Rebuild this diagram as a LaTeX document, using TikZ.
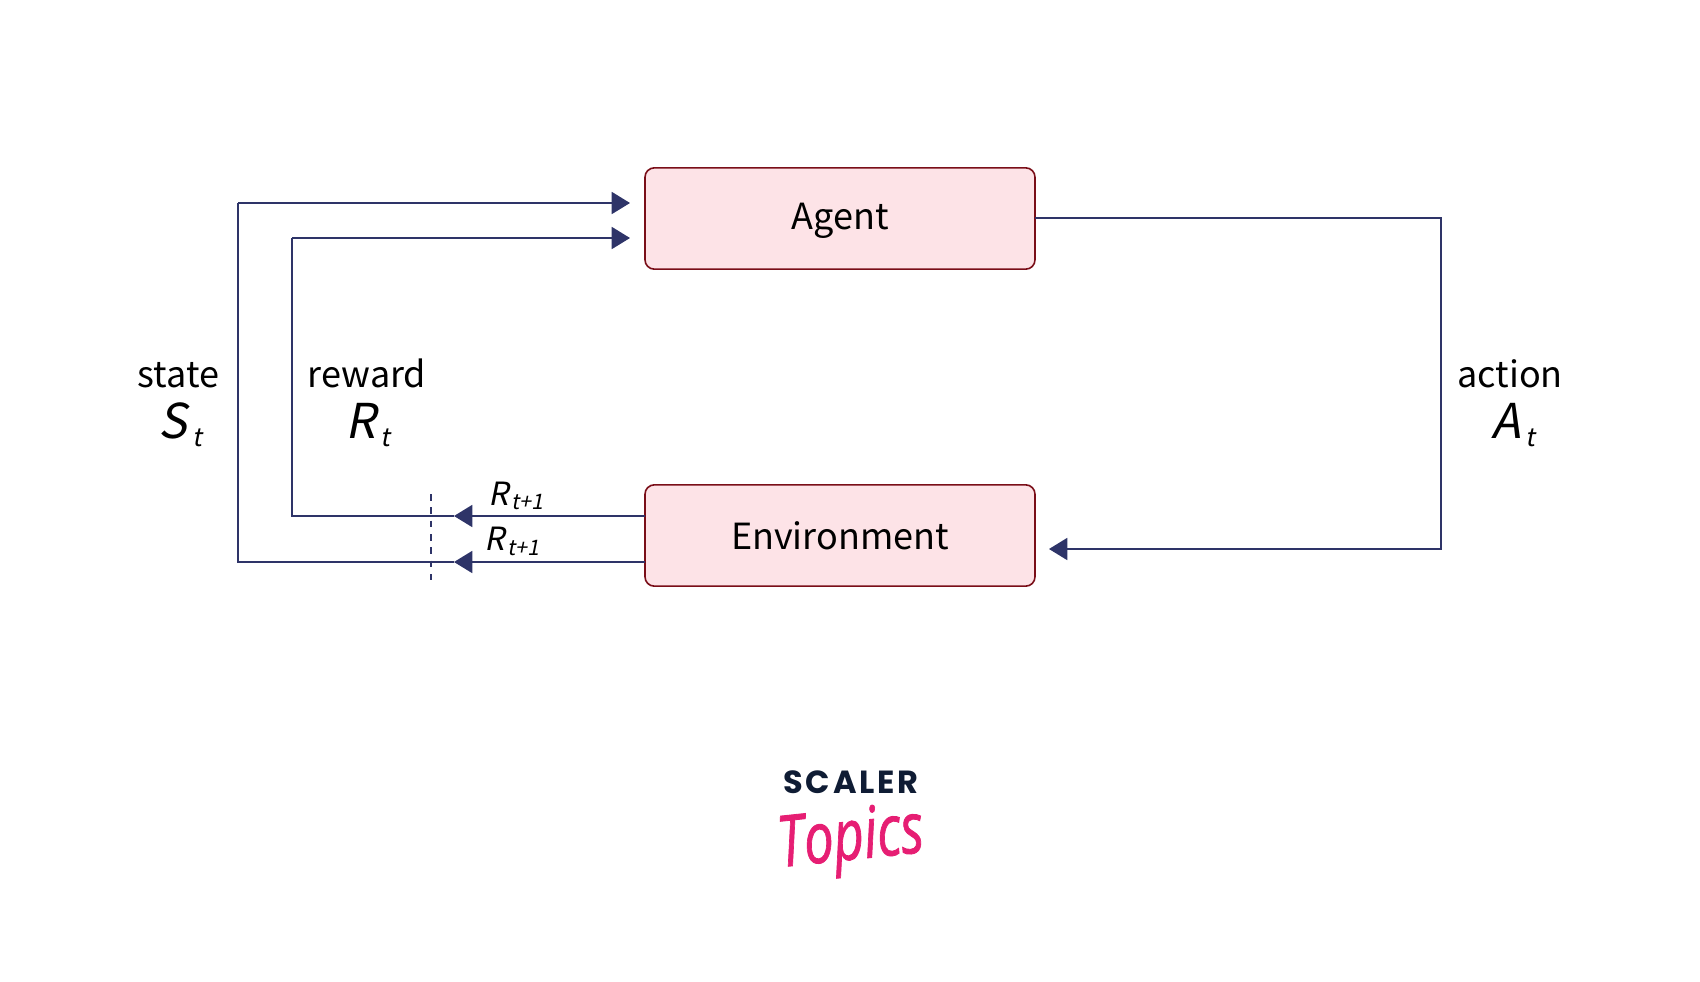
\documentclass[tikz,border=0pt]{standalone}
\usepackage{fontspec}
\usepackage{tikz}
\usetikzlibrary{arrows.meta}
\setmainfont{Noto Sans CJK SC}[AutoFakeSlant=0.2]
\newfontfamily\logofont[LetterSpace=9]{Poppins}
\newfontfamily\topicsfont{Open Sans}[FakeBold=1.2]
\definecolor{flowblue}{RGB}{46,52,104}
\definecolor{boxred}{RGB}{122,14,24}
\definecolor{boxpink}{RGB}{253,227,231}
\definecolor{logonavy}{RGB}{15,28,52}
\definecolor{logopink}{RGB}{230,30,115}
\newcommand{\symb}[2]{\fontsize{36}{36}\selectfont\itshape #1\hspace{3.5pt}\raisebox{-6pt}{\fontsize{19}{19}\selectfont #2}}
\newcommand{\nextsymb}{\fontsize{24}{24}\selectfont\itshape R\hspace{2pt}\raisebox{-3.7pt}{\fontsize{16}{16}\selectfont t+1}}
\tikzset{
  blockbox/.style={draw=boxred,fill=boxpink,line width=1.2pt,rounded corners=7pt,minimum width=292.5pt,minimum height=76pt,inner sep=0pt,font=\fontsize{27}{27}\selectfont},
  flowline/.style={draw=flowblue,line width=1.25pt},
  flowarrow/.style={flowline,-{Triangle[length=13.7pt,width=16.5pt,color=flowblue]}},
  textlabel/.style={inner sep=0pt,font=\fontsize{27}{27}\selectfont},
  symbollabel/.style={inner sep=0pt,anchor=base west}
}
\begin{document}
\begin{tikzpicture}[x=0.75pt,y=0.75pt,yscale=-1]
\useasboundingbox (0,0) rectangle (1700,982);

%Blocks
\node [blockbox] (agent) at (840,218.5) {\smash{\raisebox{-8pt}{Agent}}};
\node [blockbox] (environment) at (840,535.5) {Environment};

%Corners and free ends
\coordinate (stateTip) at (630,203);
\coordinate (rewardTip) at (630,238);
\coordinate (stateCorner) at (238,203);
\coordinate (rewardCorner) at (292,238);
\coordinate (stateLow) at (238,562);
\coordinate (rewardLow) at (292,516);
\coordinate (stateOut) at (645,562);
\coordinate (rewardOut) at (645,516);
\coordinate (stateHead) at (454,562);
\coordinate (rewardHead) at (454,516);
\coordinate (actionOut) at (1035,218);
\coordinate (actionTop) at (1441,218);
\coordinate (actionLow) at (1441,549);
\coordinate (actionTip) at (1049,549);
\coordinate (cutTop) at (431,494);
\coordinate (cutLow) at (431,580);

%Straight Lines
\draw [flowarrow] (stateOut) -- (stateHead);
\draw [flowarrow] (rewardOut) -- (rewardHead);
\draw [flowline] (stateHead) -- (stateLow) -- (stateCorner);
\draw [flowline] (rewardHead) -- (rewardLow) -- (rewardCorner);
\draw [flowarrow] (stateCorner) -- (stateTip);
\draw [flowarrow] (rewardCorner) -- (rewardTip);
\draw [flowarrow] (actionOut) -- (actionTop) -- (actionLow) -- (actionTip);
\draw [flowblue,line width=1.1pt,dash pattern=on 5pt off 5pt] (cutTop) -- (cutLow);

% Text Node
\node [textlabel] (stateText) at (178.5,375) {state};
\node [textlabel] (rewardText) at (367,373) {reward};
\node [textlabel] (actionText) at (1510,374) {action};
\node [symbollabel] (stateSymbol) at (158.5,438) {\symb{S}{t}};
\node [symbollabel] (rewardSymbol) at (345,438) {\symb{R}{t}};
\node [symbollabel] (actionSymbol) at (1491.5,438) {\symb{A}{t}};
\node [symbollabel] (rewardNext) at (488,505) {\nextsymb};
\node [symbollabel] (stateNext) at (484,550.7) {\nextsymb};

% Logo
\node [inner sep=0pt,text=logonavy] (scaler) at (851,782) {\logofont\bfseries\fontsize{24}{24}\selectfont SCALER};
\node [inner sep=0pt,text=logopink,rotate=6] (topics) at (851,842) {\scalebox{1}[1.35]{\topicsfont\itshape\fontsize{39.5}{39.5}\selectfont Topics}};

\end{tikzpicture}
\end{document}
